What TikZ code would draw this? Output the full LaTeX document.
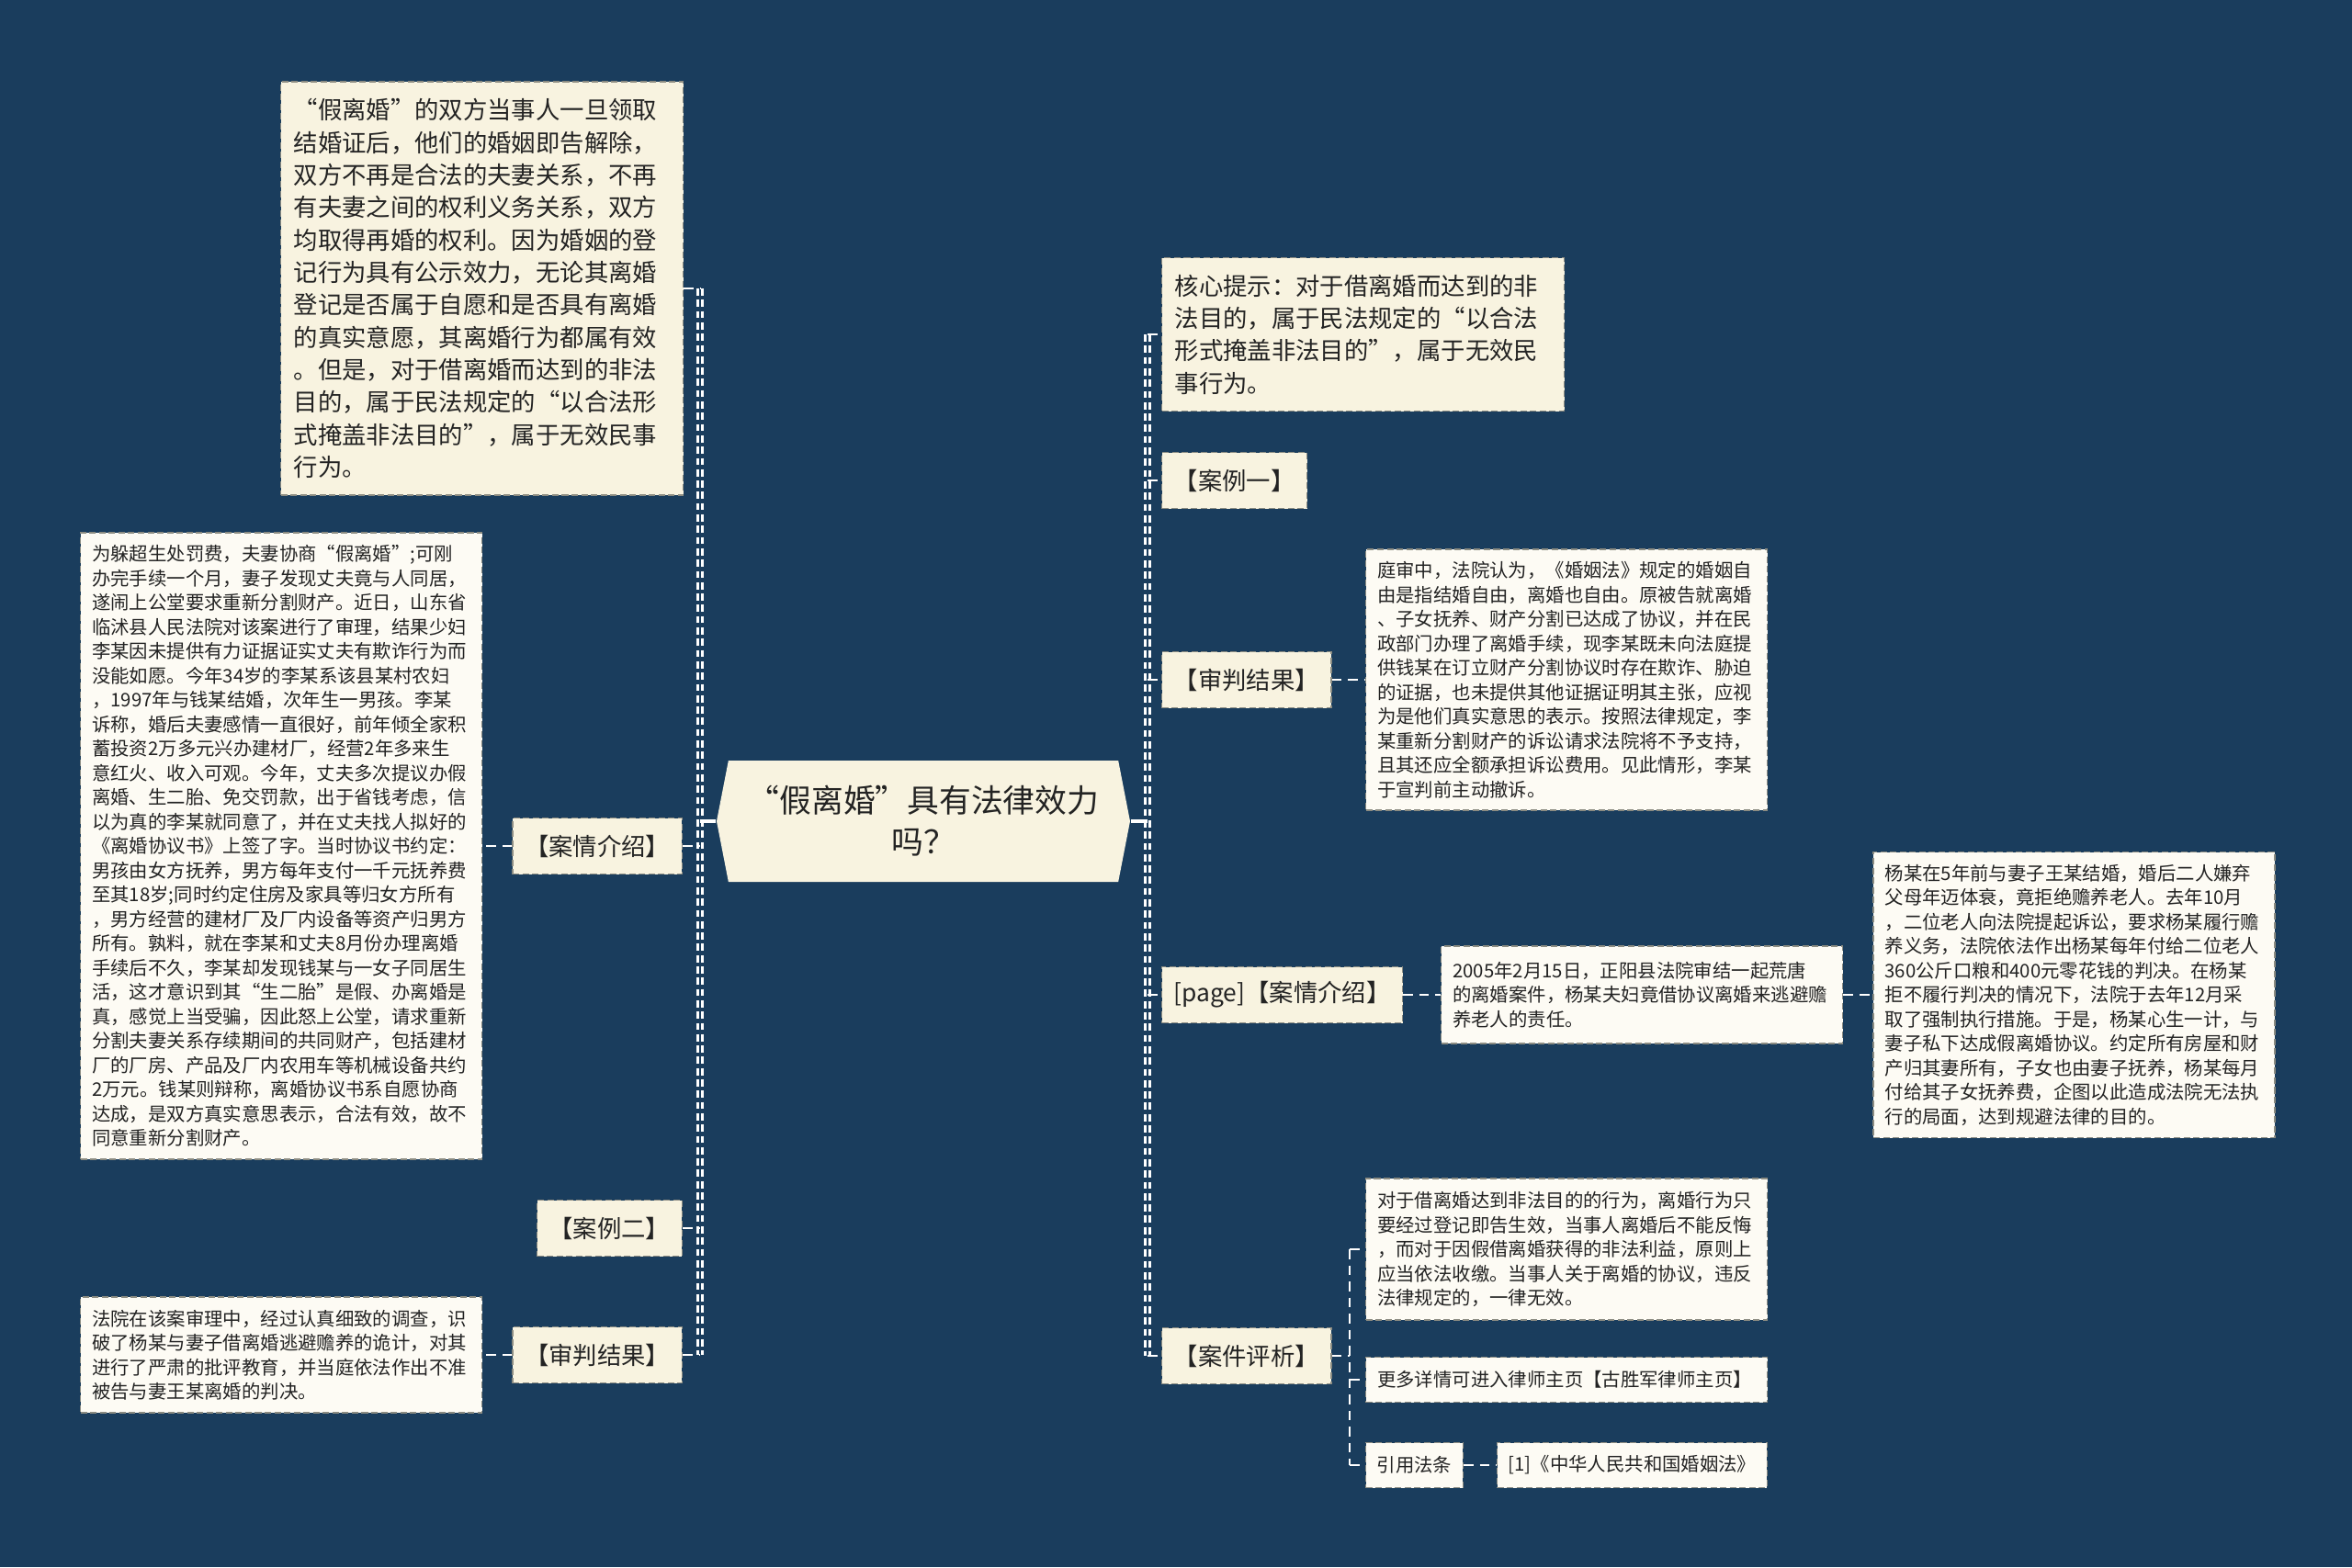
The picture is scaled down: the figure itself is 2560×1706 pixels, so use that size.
\documentclass[tikz,border=0pt]{standalone}
\usepackage{fontspec}
\newfontfamily\cjk{Noto Sans CJK SC}
\usetikzlibrary{shapes.symbols, positioning}

\definecolor{bgblue}{RGB}{26,61,93}
\definecolor{cream}{RGB}{248,243,224}
\definecolor{paper}{RGB}{253,251,244}
\definecolor{edge}{RGB}{140,140,130}
\definecolor{ink}{RGB}{35,35,35}

\newcommand{\bigtext}{\cjk\fontsize{7.5pt}{10.05pt}\selectfont}
\newcommand{\smalltext}{\cjk\fontsize{5.8pt}{7.54pt}\selectfont}

\begin{document}
\begin{tikzpicture}[
    x=0.1mm, y=-0.1mm,
    topic/.style={signal, signal to=west and east, signal pointer angle=158,
        fill=cream, text=ink, align=center, minimum width=45mm, minimum height=13.2mm,
        font=\cjk\fontsize{9.9pt}{12.8pt}\selectfont},
    tag/.style={rectangle, draw=edge, dash pattern=on 2pt off 1pt, line width=0.4pt,
        fill=cream, text=ink, minimum height=6.1mm, inner xsep=1.3mm, font=\bigtext},
    smalltag/.style={rectangle, draw=edge, dash pattern=on 2pt off 1pt, line width=0.4pt,
        fill=paper, text=ink, minimum height=4.9mm, inner xsep=1.2mm, font=\smalltext},
    bignote/.style={rectangle, draw=edge, dash pattern=on 2pt off 1pt, line width=0.4pt,
        fill=cream, text=ink, text width=41mm, align=left, inner xsep=1.4mm, font=\bigtext},
    note/.style={rectangle, draw=edge, dash pattern=on 2pt off 1pt, line width=0.4pt,
        fill=paper, text=ink, text width=41.2mm, align=left, inner xsep=1.25mm, font=\smalltext},
    trunk/.style={draw=white, line width=0.7pt, double=bgblue, double distance=0.7pt,
        dash pattern=on 2.2pt off 1.3pt},
    link/.style={draw=white, line width=0.8pt, dash pattern=on 3pt off 2pt},
    stem/.style={draw=white, line width=0.9pt},
]

\fill[bgblue] (0,0) rectangle (2560,1706);
\useasboundingbox (0,0) rectangle (2560,1706);

% ---- centre ----
\node (topic) [topic] at (1005,894) {“假离婚”具有法律效力\\吗？};

% ---- left side ----
\node (tl) [bignote, anchor=west, minimum height=45mm] at (305,314)
    {“假离婚”的双方当事人一旦领取\\结婚证后，他们的婚姻即告解除，\\双方不再是合法的夫妻关系，不再\\有夫妻之间的权利义务关系，双方\\均取得再婚的权利。因为婚姻的登\\记行为具有公示效力，无论其离婚\\登记是否属于自愿和是否具有离婚\\的真实意愿，其离婚行为都属有效\\。但是，对于借离婚而达到的非法\\目的，属于民法规定的“以合法形\\式掩盖非法目的”，属于无效民事\\行为。};
\node (jqjs) [tag, anchor=east] at (743,921) {【案情介绍】};
\node (big) [note, anchor=west, minimum height=68.2mm] at (87,921)
    {为躲超生处罚费，夫妻协商“假离婚”;可刚\\办完手续一个月，妻子发现丈夫竟与人同居，\\遂闹上公堂要求重新分割财产。近日，山东省\\临沭县人民法院对该案进行了审理，结果少妇\\李某因未提供有力证据证实丈夫有欺诈行为而\\没能如愿。今年34岁的李某系该县某村农妇\\，1997年与钱某结婚，次年生一男孩。李某\\诉称，婚后夫妻感情一直很好，前年倾全家积\\蓄投资2万多元兴办建材厂，经营2年多来生\\意红火、收入可观。今年，丈夫多次提议办假\\离婚、生二胎、免交罚款，出于省钱考虑，信\\以为真的李某就同意了，并在丈夫找人拟好的\\《离婚协议书》上签了字。当时协议书约定：\\男孩由女方抚养，男方每年支付一千元抚养费\\至其18岁;同时约定住房及家具等归女方所有\\，男方经营的建材厂及厂内设备等资产归男方\\所有。孰料，就在李某和丈夫8月份办理离婚\\手续后不久，李某却发现钱某与一女子同居生\\活，这才意识到其“生二胎”是假、办离婚是\\真，感觉上当受骗，因此怒上公堂，请求重新\\分割夫妻关系存续期间的共同财产，包括建材\\厂的厂房、产品及厂内农用车等机械设备共约\\2万元。钱某则辩称，离婚协议书系自愿协商\\达成，是双方真实意思表示，合法有效，故不\\同意重新分割财产。};
\node (al2) [tag, anchor=east] at (743,1337) {【案例二】};
\node (spjg) [tag, anchor=east] at (743,1475) {【审判结果】};
\node (lb) [note, anchor=west, minimum height=12.6mm] at (87,1475)
    {法院在该案审理中，经过认真细致的调查，识\\破了杨某与妻子借离婚逃避赡养的诡计，对其\\进行了严肃的批评教育，并当庭依法作出不准\\被告与妻王某离婚的判决。};

% ---- right side ----
\node (hx) [bignote, anchor=west, minimum height=16.7mm] at (1264,364)
    {核心提示：对于借离婚而达到的非\\法目的，属于民法规定的“以合法\\形式掩盖非法目的”，属于无效民\\事行为。};
\node (al1) [tag, anchor=west] at (1264,523) {【案例一】};
\node (rspjg) [tag, anchor=west] at (1264,740) {【审判结果】};
\node (rnote) [note, anchor=west, minimum height=28.4mm] at (1486,740)
    {庭审中，法院认为，《婚姻法》规定的婚姻自\\由是指结婚自由，离婚也自由。原被告就离婚\\、子女抚养、财产分割已达成了协议，并在民\\政部门办理了离婚手续，现李某既未向法庭提\\供钱某在订立财产分割协议时存在欺诈、胁迫\\的证据，也未提供其他证据证明其主张，应视\\为是他们真实意思的表示。按照法律规定，李\\某重新分割财产的诉讼请求法院将不予支持，\\且其还应全额承担诉讼费用。见此情形，李某\\于宣判前主动撤诉。};
\node (page) [tag, anchor=west] at (1264,1083) {[page]【案情介绍】};
\node (y2005) [note, anchor=west, minimum height=10.6mm] at (1568,1083)
    {2005年2月15日，正阳县法院审结一起荒唐\\的离婚案件，杨某夫妇竟借协议离婚来逃避赡\\养老人的责任。};
\node (yang) [note, right=3.2mm of y2005, minimum height=31.1mm]
    {杨某在5年前与妻子王某结婚，婚后二人嫌弃\\父母年迈体衰，竟拒绝赡养老人。去年10月\\，二位老人向法院提起诉讼，要求杨某履行赡\\养义务，法院依法作出杨某每年付给二位老人\\360公斤口粮和400元零花钱的判决。在杨某\\拒不履行判决的情况下，法院于去年12月采\\取了强制执行措施。于是，杨某心生一计，与\\妻子私下达成假离婚协议。约定所有房屋和财\\产归其妻所有，子女也由妻子抚养，杨某每月\\付给其子女抚养费，企图以此造成法院无法执\\行的局面，达到规避法律的目的。};
\node (pj) [tag, anchor=west] at (1264,1476) {【案件评析】};
\node (pj1) [note, anchor=west, minimum height=15.4mm] at (1486,1360)
    {对于借离婚达到非法目的的行为，离婚行为只\\要经过登记即告生效，当事人离婚后不能反悔\\，而对于因假借离婚获得的非法利益，原则上\\应当依法收缴。当事人关于离婚的协议，违反\\法律规定的，一律无效。};
\node (more) [note, anchor=west, minimum height=4.9mm] at (1486,1502)
    {更多详情可进入律师主页【古胜军律师主页】};
\node (yy) [smalltag, anchor=west] at (1486,1595) {引用法条};
\node (law) [smalltag, right=3.6mm of yy] {[1]《中华人民共和国婚姻法》};

% ---- trunks ----
\coordinate (lt) at (762,894);
\coordinate (rt) at (1249,894);
\coordinate (st) at (1469,1476);

\draw[trunk] (tl.east -| lt) -- (spjg.east -| lt);
\draw[stem] (topic.west) -- (lt);
\foreach \n in {tl,jqjs,al2,spjg}
    \draw[link] (\n.east) -- (\n.east -| lt);
\draw[link] (jqjs.west) -- (big.east);
\draw[link] (spjg.west) -- (lb.east);

\draw[trunk] (hx.west -| rt) -- (pj.west -| rt);
\draw[stem] (topic.east) -- (rt);
\foreach \n in {hx,al1,rspjg,page,pj}
    \draw[link] (\n.west -| rt) -- (\n.west);
\draw[link] (rspjg.east) -- (rnote.west);
\draw[link] (page.east) -- (y2005.west);
\draw[link] (y2005.east) -- (yang.west);

% ---- case review branch ----
\draw[link] (pj.east) -- (st);
\draw[link] (pj1.west -| st) -- (yy.west -| st);
\foreach \n in {pj1,more,yy}
    \draw[link] (\n.west -| st) -- (\n.west);
\draw[link] (yy.east) -- (law.west);

\end{tikzpicture}
\end{document}
